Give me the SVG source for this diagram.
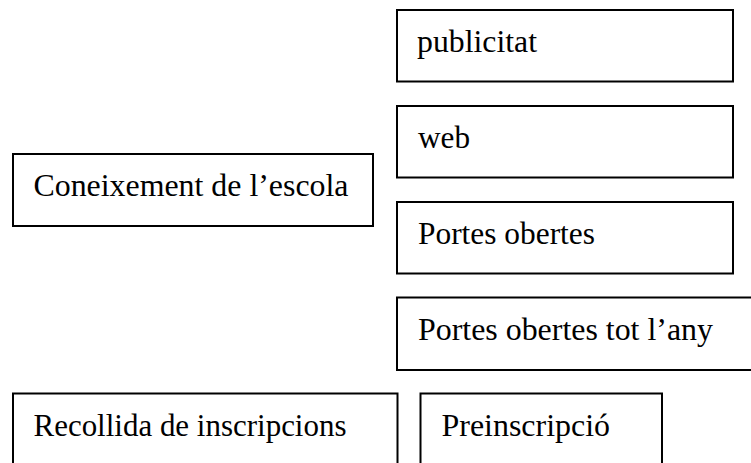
<svg xmlns="http://www.w3.org/2000/svg" width="751" height="463" viewBox="0 0 751 463">
<style>
.box{fill:#fff;stroke:#000;stroke-width:2}
.t{font-family:'Liberation Serif','Times New Roman','DejaVu Serif',serif;font-size:31px;fill:#000}
</style>
<rect width="751" height="463" fill="#fff"/>
<g id="connectors"></g>
<g id="publicitat"><rect class="box" x="397" y="10" width="336" height="71.5"/><text class="t" font-family="Liberation Serif, serif" x="417" y="52" textLength="120" lengthAdjust="spacingAndGlyphs">publicitat</text></g>
<g id="web"><rect class="box" x="397" y="106" width="336" height="71.5"/><text class="t" font-family="Liberation Serif, serif" x="418" y="148" textLength="52" lengthAdjust="spacingAndGlyphs">web</text></g>
<g id="coneixement"><rect class="box" x="13" y="154" width="360" height="72"/><text class="t" font-family="Liberation Serif, serif" x="33.5" y="196" textLength="315" lengthAdjust="spacingAndGlyphs">Coneixement de l’escola</text></g>
<g id="portes-obertes"><rect class="box" x="397" y="202" width="336" height="71.5"/><text class="t" font-family="Liberation Serif, serif" x="418" y="244" textLength="177" lengthAdjust="spacingAndGlyphs">Portes obertes</text></g>
<g id="portes-obertes-tot-any"><rect class="box" x="397" y="297.5" width="370" height="72.5"/><text class="t" font-family="Liberation Serif, serif" x="418" y="340" textLength="295" lengthAdjust="spacingAndGlyphs">Portes obertes tot l’any</text></g>
<g id="recollida"><rect class="box" x="13" y="393.5" width="384.5" height="90"/><text class="t" font-family="Liberation Serif, serif" x="33.5" y="436" textLength="313" lengthAdjust="spacingAndGlyphs">Recollida de inscripcions</text></g>
<g id="preinscripcio"><rect class="box" x="420.5" y="393.5" width="241.5" height="90"/><text class="t" font-family="Liberation Serif, serif" x="441.5" y="436" textLength="168.5" lengthAdjust="spacingAndGlyphs">Preinscripció</text></g>
</svg>
